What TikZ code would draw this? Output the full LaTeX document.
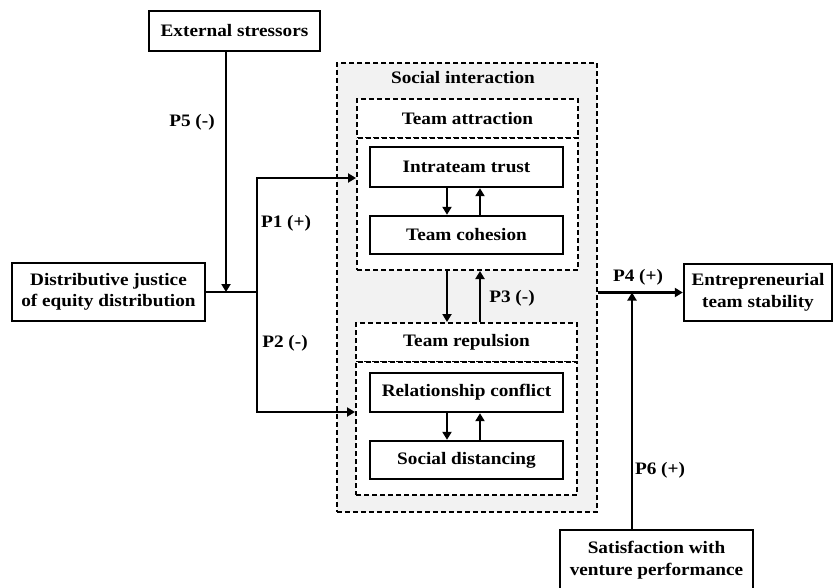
\documentclass[tikz,border=0pt]{standalone}
\usepackage{fontspec}
\setmainfont{Liberation Serif}[FakeStretch=1.1]
\usetikzlibrary{arrows.meta}
\begin{document}
\begin{tikzpicture}[x=1pt,y=-1pt,
  font=\fontsize{17.5}{21.5}\selectfont\bfseries,
  solidbox/.style={draw,line width=2.4pt,fill=white,inner sep=0pt,align=center},
  dashbox/.style={draw,line width=2pt,dash pattern=on 5pt off 3pt,inner sep=0pt},
  link/.style={line width=2.4pt},
  arr/.style={line width=2.4pt,-{Triangle[length=8pt,width=9pt]}},
  lbl/.style={inner sep=0pt}]
\useasboundingbox (0,0) rectangle (834,588);

% outer grouping box
\node[dashbox,fill=black!5,minimum width=260pt,minimum height=449pt] (si) at (467,287.5) {};
\node[lbl] (sit) at (463,78) {Social interaction};

% team attraction block
\node[dashbox,fill=white,minimum width=221pt,minimum height=39pt] (tah) at (467.5,118.5) {Team attraction};
\node[dashbox,fill=white,minimum width=221pt,minimum height=132pt] (tab) at (467.5,204) {};
\node[solidbox,minimum width=193pt,minimum height=40pt] (it) at (466.5,167) {Intrateam trust};
\node[solidbox,minimum width=193pt,minimum height=38pt] (tc) at (466.5,235) {Team cohesion};

% team repulsion block
\node[dashbox,fill=white,minimum width=221pt,minimum height=39pt] (trh) at (466.5,342.5) {Team repulsion};
\node[dashbox,fill=white,minimum width=221pt,minimum height=133pt] (trb) at (466.5,428.5) {};
\node[solidbox,minimum width=193pt,minimum height=39pt] (rc) at (466.5,392.5) {Relationship conflict};
\node[solidbox,minimum width=193pt,minimum height=38pt] (sd) at (466.5,460) {Social distancing};

% outer constructs
\node[solidbox,minimum width=171pt,minimum height=40pt] (es) at (234.5,31) {External stressors};
\node[solidbox,minimum width=193pt,minimum height=58pt] (dj) at (108.5,292) {Distributive justice\\of equity distribution};
\node[solidbox,minimum width=148pt,minimum height=57pt] (ets) at (758,292.5) {Entrepreneurial\\team stability};
\node[solidbox,draw=none,minimum width=191pt,minimum height=58pt] (sat) at (656.5,560) {Satisfaction with\\venture performance};
% its frame runs past the lower edge of the page
\draw[line width=2.4pt] (sat.north west) rectangle ([yshift=-14pt]sat.south east);

% helper coordinates
\coordinate (jm) at (226,292);
\coordinate (jb) at (257,292);
\coordinate (ya) at (0,178);
\coordinate (yr) at (0,412);
\coordinate (xd) at (447,0);
\coordinate (xu) at (480,0);
\coordinate (xs) at (632,0);

% connectors
\draw[link] (dj.east) -- (jb);
\draw[arr] (es.south -| jm) -- (jm);
\draw[arr] (jb) |- (tab.west |- ya);
\draw[arr] (jb) |- (trb.west |- yr);
\draw[arr] (it.south -| xd) -- (tc.north -| xd);
\draw[arr] (tc.north -| xu) -- (it.south -| xu);
\draw[arr] (tab.south -| xd) -- (trh.north -| xd);
\draw[arr] (trh.north -| xu) -- (tab.south -| xu);
\draw[arr] (rc.south -| xd) -- (sd.north -| xd);
\draw[arr] (sd.north -| xu) -- (rc.south -| xu);
\draw[arr] (si.east |- ets.west) -- (ets.west);
\draw[arr] (sat.north -| xs) -- (xs |- ets.west);

% path labels
\node[lbl] (p5) at (192,122) {P5 (-)};
\node[lbl] (p1) at (286,223) {P1 (+)};
\node[lbl] (p2) at (285,343) {P2 (-)};
\node[lbl] (p3) at (512,298) {P3 (-)};
\node[lbl] (p4) at (638,277) {P4 (+)};
\node[lbl] (p6) at (660,470) {P6 (+)};
\end{tikzpicture}
\end{document}
